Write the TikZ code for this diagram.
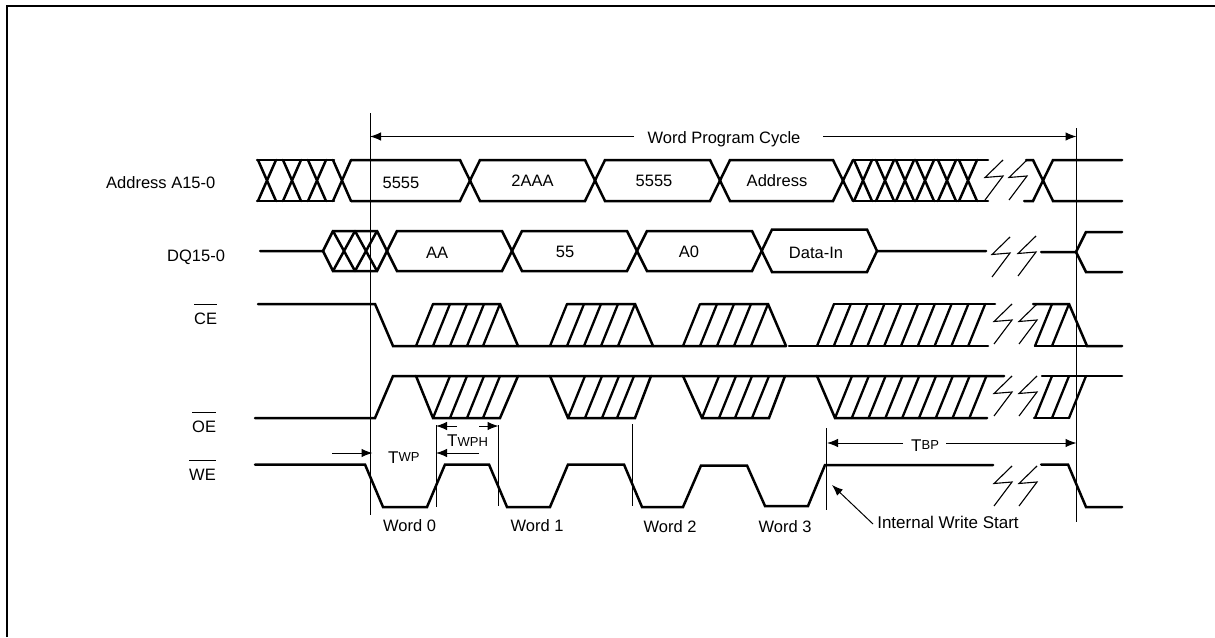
\documentclass[tikz,border=0pt]{standalone}
\usepackage{fontspec}
\setmainfont{Liberation Sans}
\usetikzlibrary{arrows.meta}
\newcommand\ovl[1]{\vbox{\hrule height .8pt \kern 8pt\hbox{#1}}}
\newcommand\ts[2]{\fontsize{17}{17}\selectfont #1\fontsize{13}{13}\selectfont\raisebox{1.5pt}{#2}}
\tikzset{
  sig/.style={line width=2.5pt,line join=miter,line cap=round},
  hatch/.style={line width=2.3pt,line cap=round},
  brk/.style={line width=1.1pt,line join=miter},
  guide/.style={line width=1pt},
  frameline/.style={line width=2pt},
  dim/.style={line width=1pt,-{Latex[length=11pt,width=8.5pt]}},
  lbl/.style={anchor=base,inner sep=0pt,font=\fontsize{16.5}{16.5}\selectfont},
  sidelbl/.style={anchor=base west,inner sep=0pt,font=\fontsize{16.5}{16.5}\selectfont},
}
\begin{document}
\begin{tikzpicture}[x=1pt,y=-1pt]
\useasboundingbox (0,0) rectangle (1215,637);
% frame
\draw[frameline] (7,637) -- (7,6) -- (1215,6);
% guide lines
\draw[guide] (370,113) -- (370,515);
\draw[guide] (1076.5,128) -- (1076.5,522);
\draw[guide] (436,425) -- (436,507);
\draw[guide] (498.5,425) -- (498.5,506);
\draw[guide] (632.5,424) -- (632.5,506);
\draw[guide] (826.5,428) -- (826.5,510);
% ----- Address
\draw[sig] (257,160) -- (334,160) (257,201) -- (334,201);
\foreach \c in {267,292,317,342}
  \draw[sig] (\c-9,160) -- (\c+9,201) (\c-9,201) -- (\c+9,160);
\draw[sig] (351,160) -- (460,160) -- (480,201) -- (585,201) -- (605,160) -- (710,160) -- (730,201) -- (833,201) -- (853,160);
\draw[sig] (351,201) -- (460,201) -- (480,160) -- (585,160) -- (605,201) -- (710,201) -- (730,160) -- (833,160) -- (853,201);
\draw[sig] (854,160) -- (988,160) (854,201) -- (988,201);
\foreach \c in {863,885,905,925,947,968}
  \draw[sig] (\c-9,160) -- (\c+9,201) (\c-9,201) -- (\c+9,160);
\draw[sig] (1026,160) -- (1033,160) -- (1053,201) -- (1122,201);
\draw[sig] (1024,201) -- (1033,201) -- (1053,160) -- (1122,160);
% ----- DQ
\draw[sig] (260,251) -- (323,251) -- (333,231) -- (377,231) -- (397,271) -- (502,271) -- (522,231) -- (627,231) -- (647,271) -- (752,271) -- (772,229.5) -- (867,229.5) -- (877,251) -- (986,251);
\draw[sig] (323,251) -- (333,271) -- (377,271) -- (397,231) -- (502,231) -- (522,271) -- (627,271) -- (647,231) -- (752,231) -- (772,272) -- (867,272) -- (877,251);
\foreach \a in {333,355}
  \draw[sig] (\a,231) -- (\a+22,271) (\a,271) -- (\a+22,231);
\draw[sig] (1041,252) -- (1076,252) -- (1086,232) -- (1122,232);
\draw[sig] (1076,252) -- (1086,272) -- (1122,272);
% ----- CE
\draw[sig] (258,304) -- (375,304) -- (393,346) -- (786,346);
\draw[sig] (789,346) -- (988,346);
\draw[sig] (433,304) -- (500,304) -- (518,346);
\draw[sig] (567,304) -- (635,304) -- (653,346);
\draw[sig] (701,304) -- (768,304) -- (786,346);
\draw[sig] (834,304) -- (995,304);
\foreach \b in {416,433,450,467,483}
  \draw[hatch] (\b,346) -- (\b+17,304);
\foreach \b in {550,567,584,601,618}
  \draw[hatch] (\b,346) -- (\b+17,304);
\foreach \b in {683,700,717,734,751}
  \draw[hatch] (\b,346) -- (\b+17,304);
\foreach \k in {0,...,9}
  \draw[hatch] (817+16.8*\k,346) -- (834+16.8*\k,304);
\draw[sig] (1033,304) -- (1069,304) -- (1087,346) -- (1122,346);
\draw[sig] (1035,346) -- (1087,346);
\draw[hatch] (1035,346) -- (1052,304);
\draw[hatch] (1052,346) -- (1069,304);
% ----- OE
\draw[sig] (255,418) -- (375,418) -- (393,376) -- (1004,376);
\draw[sig] (416,376) -- (433,418) -- (500,418) -- (518,376);
\draw[sig] (550,376) -- (568,418) -- (635,418) -- (651,376);
\draw[sig] (683,376) -- (702,418) -- (769,418) -- (785,376);
\draw[sig] (817,376) -- (835,418) -- (987,418);
\foreach \b in {433,450,467,483}
  \draw[hatch] (\b,418) -- (\b+17,376);
\foreach \b in {568,585,602,617}
  \draw[hatch] (\b,418) -- (\b+17,376);
\foreach \b in {702,719,735,752}
  \draw[hatch] (\b,418) -- (\b+17,376);
\foreach \k in {0,...,8}
  \draw[hatch] (835+16.8*\k,418) -- (852+16.8*\k,376);
\draw[sig] (1042,376) -- (1122,376);
\draw[sig] (1034,418) -- (1069,418);
\foreach \b in {1035,1052,1069}
  \draw[hatch] (\b,418) -- (\b+17,376);
% ----- WE
\draw[sig] (255,464.5) -- (365,464.5) -- (383,507) -- (427,507) -- (445,464.5) -- (489,464.5) -- (507,507) -- (550,507) -- (568,464.5) -- (624,464.5) -- (642,507) -- (683,507) -- (701,465.5) -- (747,465.5) -- (765,506) -- (808,506) -- (825,465) -- (993,465);
\draw[sig] (1041,464.5) -- (1068,464.5) -- (1086,507) -- (1122,507);
% ----- break marks
\foreach \x/\y in {1003/160,1027/160,1010/237,1036/236,1012/304,1037/304,1012/376,1037/376,1012/466,1037/466}
  \draw[brk] (\x,\y) -- (\x-18,\y+17.5) -- (\x,\y+16) -- (\x-18,\y+40);
% ----- dimension arrows
\node[lbl] (wpc) at (724,143) {Word Program Cycle};
\coordinate (wpcL) at (370,136.5);
\coordinate (wpcR) at (1076.5,136.5);
\coordinate (wpcLs) at (634,136.5);
\coordinate (wpcRs) at (823,136.5);
\draw[dim] (wpcLs) -- (wpcL);
\draw[dim] (wpcRs) -- (wpcR);
\node[anchor=base west,inner sep=0pt] (twp) at (388,463) {\ts{T}{WP}};
\coordinate (twpA) at (332,453);
\coordinate (twpB) at (372.5,453);
\draw[dim] (twpA) -- (twpB);
\node[anchor=base west,inner sep=0pt] (twph) at (447,446) {\ts{T}{\raisebox{-1.5pt}{WPH}}};
\coordinate (twphA) at (457,426);
\coordinate (twphB) at (436,426);
\coordinate (twphC) at (479,426);
\coordinate (twphD) at (498.5,426);
\coordinate (twphE) at (479,453);
\coordinate (twphF) at (436,453);
\draw[dim] (twphA) -- (twphB);
\draw[dim] (twphC) -- (twphD);
\draw[dim] (twphE) -- (twphF);
\node[anchor=base west,inner sep=0pt] (tbp) at (911,451) {\ts{T}{BP}};
\coordinate (tbpA) at (903,443);
\coordinate (tbpB) at (827,443);
\coordinate (tbpC) at (946,443);
\coordinate (tbpD) at (1076.5,443);
\draw[dim] (tbpA) -- (tbpB);
\draw[dim] (tbpC) -- (tbpD);
\node[lbl,font=\fontsize{17}{17}\selectfont] (iws) at (948,528) {Internal Write Start};
\coordinate (iwsA) at (873,524);
\coordinate (iwsB) at (832,485);
\draw[dim] (iwsA) -- (iwsB);
% ----- labels
\node[sidelbl] (ladr) at (106,188) {Address A15-0};
\node[sidelbl] (ldq) at (167,261) {DQ15-0};
\node[sidelbl] (lce) at (194,324) {\ovl{CE}};
\node[sidelbl] (loe) at (192,432) {\ovl{OE}};
\node[sidelbl] (lwe) at (189,480) {\ovl{WE}};
\node[lbl] (a1) at (401,188) {5555};
\node[lbl] (a2) at (532.5,186) {2AAA};
\node[lbl] (a3) at (654,186) {5555};
\node[lbl] (a4) at (777,186) {Address};
\node[lbl] (d1) at (437,258) {AA};
\node[lbl] (d2) at (565,257) {55};
\node[lbl] (d3) at (689,257) {A0};
\node[lbl] (d4) at (816,258) {Data-In};
\node[lbl] (w0) at (409.5,531) {Word 0};
\node[lbl] (w1) at (537,531) {Word 1};
\node[lbl] (w2) at (670,532) {Word 2};
\node[lbl] (w3) at (785,532) {Word 3};
\end{tikzpicture}
\end{document}
